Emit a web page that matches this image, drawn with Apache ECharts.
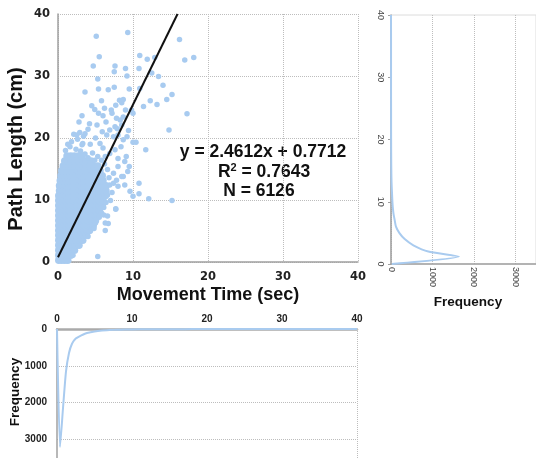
<!DOCTYPE html>
<html>
<head>
<meta charset="utf-8">
<script src="https://cdn.jsdelivr.net/npm/echarts@6/dist/echarts.min.js"></script>
<style>
  html, body { margin: 0; padding: 0; background: #fff; }
  #chart { width: 536px; height: 458px; }
</style>
</head>
<body>
<div id="chart"></div>
<script>
// trend line printed on the chart
var slope = 2.4612;
var intercept = 0.7712;
var rSquared = '0.7643';
var sampleCount = '6126';

// dense cloud near the origin, row by row: [path length, movement times]
var cloudRows = [
  [0.3, [0.1, 0.5, 0.9, 1.3]],
  [1.1, [0.1, 0.5, 0.9, 1.3, 1.7]],
  [1.9, [0.1, 0.5, 0.9, 1.3, 1.7, 2.2]],
  [2.7, [0.1, 0.5, 0.9, 1.3, 1.8, 2.3, 2.8]],
  [3.5, [0.1, 0.5, 0.9, 1.4, 1.9, 2.4, 2.9, 3.3]],
  [4.3, [0.1, 0.5, 1.0, 1.4, 1.9, 2.4, 2.9, 3.4, 3.8]],
  [5.1, [0.1, 0.5, 1.0, 1.5, 2.0, 2.5, 3.0, 3.5, 3.9, 4.2]],
  [5.9, [0.1, 0.5, 1.0, 1.5, 2.0, 2.5, 3.0, 3.5, 4.0, 4.4, 4.7]],
  [6.7, [0.1, 0.5, 1.0, 1.5, 2.0, 2.5, 3.0, 3.5, 4.0, 4.5, 5.0]],
  [7.5, [0.1, 0.5, 1.0, 1.5, 2.0, 2.5, 3.0, 3.5, 4.0, 4.5, 5.0, 5.3]],
  [8.3, [0.1, 0.5, 1.0, 1.5, 2.0, 2.5, 3.0, 3.5, 4.0, 4.5, 5.0, 5.5]],
  [9.1, [0.1, 0.5, 1.0, 1.5, 2.0, 2.5, 3.0, 3.5, 4.0, 4.5, 5.0, 5.5, 5.9]],
  [9.9, [0.1, 0.5, 1.0, 1.5, 2.0, 2.5, 3.0, 3.5, 4.0, 4.5, 5.0, 5.5, 6.0]],
  [10.7, [0.1, 0.5, 1.0, 1.5, 2.0, 2.5, 3.0, 3.5, 4.0, 4.5, 5.0, 5.5, 6.0, 6.3]],
  [11.5, [0.2, 0.6, 1.0, 1.5, 2.0, 2.5, 3.0, 3.5, 4.0, 4.5, 5.0, 5.5, 6.0, 6.4]],
  [12.3, [0.2, 0.6, 1.0, 1.5, 2.0, 2.5, 3.0, 3.5, 4.0, 4.5, 5.0, 5.5, 6.0, 6.4]],
  [13.1, [0.3, 0.7, 1.1, 1.5, 2.0, 2.5, 3.0, 3.5, 4.0, 4.5, 5.0, 5.5, 6.0]],
  [13.9, [0.4, 0.8, 1.2, 1.6, 2.0, 2.5, 3.0, 3.5, 4.0, 4.5, 5.0, 5.5, 5.9]],
  [14.7, [0.5, 0.9, 1.3, 1.7, 2.1, 2.6, 3.1, 3.6, 4.1, 4.6, 5.1, 5.6]],
  [15.5, [0.7, 1.1, 1.5, 1.9, 2.3, 2.8, 3.3, 3.8, 4.3, 4.8, 5.3]],
  [16.3, [0.9, 1.3, 1.8, 2.3, 2.8, 3.3, 3.8, 4.4]],
  [17.1, [1.2, 1.7, 2.2, 2.7, 3.2]]
];

// scattered points around and above the cloud: [movement time, path length]
var scatterPoints = [
  [1.0, 18.0], [1.6, 18.6], [2.4, 18.2], [3.0, 17.9], [3.6, 17.4], [4.0, 16.8], [4.9, 16.4],
  [1.8, 19.4], [2.6, 19.8], [3.2, 18.9], [1.3, 19.0], [2.1, 20.6], [3.4, 20.3], [2.9, 20.9],
  [4.3, 19.0], [4.6, 17.6], [5.3, 17.0], [5.8, 16.4], [6.2, 15.8], [6.6, 14.9], [6.8, 13.6],
  [6.9, 12.4], [7.2, 11.2], [6.6, 10.8], [6.4, 9.6], [6.1, 8.8], [5.8, 7.9], [5.5, 7.2],
  [5.7, 8.7], [6.1, 7.6], [6.7, 6.2], [7.7, 8.5], [6.3, 5.1], [5.3, 0.9], [7.0, 9.9],
  [6.6, 7.4], [2.0, 1.1], [4.0, 4.1], [5.0, 6.3], [4.8, 5.4],
  [3.6, 20.7], [2.5, 20.5], [3.3, 19.1], [4.0, 21.4], [5.0, 20.0], [5.6, 19.1], [6.0, 18.4],
  [5.2, 22.1], [3.2, 23.6], [4.5, 25.2], [5.9, 21.0], [6.4, 22.6], [5.8, 26.0], [6.2, 24.8],
  [4.9, 24.6], [5.4, 24.0], [2.8, 22.6], [4.2, 22.3], [6.0, 23.6], [7.1, 24.5], [7.9, 21.5],
  [9.4, 21.2], [6.7, 27.8], [8.2, 26.1], [8.5, 25.7], [8.7, 26.2], [7.7, 25.3], [7.2, 24.0],
  [7.8, 23.2], [8.3, 22.9], [8.7, 23.4], [9.0, 24.5], [8.5, 22.1], [7.6, 21.8], [6.9, 21.3],
  [6.5, 20.5], [7.4, 20.2], [8.0, 20.5], [8.7, 19.7], [9.2, 20.2], [8.4, 18.6], [7.6, 18.1],
  [6.9, 17.5], [6.3, 17.0], [8.0, 16.7], [9.1, 17.0], [9.5, 15.4], [8.7, 13.8], [7.8, 13.2],
  [7.4, 12.7], [8.9, 12.4], [9.6, 11.4], [10.0, 10.6], [8.0, 12.2], [8.9, 16.2], [8.0, 15.4],
  [7.4, 14.3], [8.5, 13.8], [9.3, 14.6], [7.7, 8.6], [6.3, 6.3],
  [5.1, 36.4], [9.3, 37.0], [16.2, 35.9], [18.1, 33.0], [16.9, 32.6], [12.9, 33.0], [11.9, 32.7],
  [10.9, 33.3], [5.5, 33.1], [4.7, 31.6], [7.6, 31.6], [7.5, 30.7], [9.0, 31.2], [9.2, 30.0],
  [10.8, 31.2], [12.5, 30.5], [13.4, 29.9], [5.3, 29.5], [5.4, 27.9], [7.5, 28.2], [9.5, 27.9],
  [10.9, 28.0], [14.0, 28.5], [15.2, 27.0], [3.6, 27.4], [12.3, 26.0], [13.2, 25.4], [14.5, 26.2],
  [17.2, 23.9], [11.4, 25.1], [10.0, 24.0], [9.8, 24.5], [14.8, 21.3], [10.0, 19.3], [10.4, 19.3],
  [11.7, 18.1], [10.8, 12.7], [10.8, 11.0], [12.1, 10.2], [15.2, 9.9]
];

// path length histogram (right panel): [frequency, path length]
var pathLengthFreq = [
  [20, 0], [1640, 1.2], [900, 2], [540, 3], [330, 4], [200, 5], [120, 6], [90, 7], [62, 8],
  [45, 9], [34, 10], [27, 11], [20, 12], [14, 13], [10, 14], [8, 15], [6, 16], [5, 17], [4, 18],
  [3, 20], [2, 22], [2, 25], [1, 28], [1, 32], [1, 36], [0, 40]
];

// movement time histogram (bottom panel): [movement time, frequency]
var moveTimeFreq = [
  [0, 0], [0.4, 3200], [0.8, 2150], [1.2, 1150], [1.6, 650], [2.0, 400], [2.5, 260], [3.0, 200],
  [3.5, 150], [4, 110], [5, 65], [6, 40], [7, 28], [8, 20], [9, 15], [10, 11], [12, 8], [14, 6],
  [16, 4], [18, 3], [20, 2], [25, 1], [30, 1], [35, 0], [40, 0]
];

var dotColor = '#a8cbf0';
var lineColor = '#a9cbef';

var cloud = [];
cloudRows.forEach(function (row) {
  row[1].forEach(function (x) { cloud.push([x, row[0]]); });
});

var trendLine = [[0, intercept], [(40 - intercept) / slope, 40]];

var thousands = function (v) { return v % 1000 === 0 ? String(v) : ''; };
var boldTick = { fontFamily: 'DejaVu Sans', fontWeight: 'bold', fontSize: 11.5, color: '#222' };
var smallBold = { fontFamily: 'Liberation Sans', fontWeight: 'bold', fontSize: 10, color: '#222' };
var greyAxis = { show: true, lineStyle: { color: '#a0a0a0', width: 1.5 } };
var dotted = { show: true, lineStyle: { type: 'dotted', color: '#bdbdbd', width: 1 } };

var myChart = echarts.init(document.getElementById('chart'));
myChart.setOption({
  animation: false,
  backgroundColor: '#fff',
  grid: [
    { left: 58, top: 14, width: 300, height: 248 },
    { left: 391, top: 15, width: 148, height: 249, show: true, borderColor: '#dcdcdc', borderWidth: 1 },
    { left: 57, top: 329, width: 300, height: 132 }
  ],
  xAxis: [
    {
      gridIndex: 0, type: 'value', min: 0, max: 40, interval: 10,
      axisLine: greyAxis, axisTick: { show: false },
      axisLabel: Object.assign({ margin: 9 }, boldTick),
      splitLine: dotted
    },
    {
      gridIndex: 1, type: 'value', min: 0, max: 3500, interval: 1000,
      axisLine: greyAxis, axisTick: { show: false },
      axisLabel: { rotate: -90, margin: 3, fontFamily: 'Liberation Sans', fontSize: 9, color: '#444', formatter: thousands },
      splitLine: dotted
    },
    {
      gridIndex: 2, type: 'value', position: 'top', min: 0, max: 40, interval: 10,
      axisLine: { show: true, lineStyle: { color: '#aaaaaa', width: 2.5 } }, axisTick: { show: false },
      axisLabel: Object.assign({ margin: 5 }, smallBold),
      splitLine: { show: false }
    }
  ],
  yAxis: [
    {
      gridIndex: 0, type: 'value', min: 0, max: 40, interval: 10,
      axisLine: greyAxis, axisTick: { show: false },
      axisLabel: Object.assign({ margin: 8 }, boldTick),
      splitLine: dotted
    },
    {
      gridIndex: 1, type: 'value', min: 0, max: 40, interval: 10,
      axisLine: greyAxis, axisTick: { show: true, length: 3, lineStyle: { color: '#a0a0a0' } },
      axisLabel: { rotate: -90, margin: 6, fontFamily: 'Liberation Sans', fontSize: 9, color: '#444' },
      splitLine: { show: false }
    },
    {
      gridIndex: 2, type: 'value', inverse: true, min: 0, max: 3500, interval: 1000,
      axisLine: greyAxis, axisTick: { show: false },
      axisLabel: Object.assign({ margin: 10, formatter: thousands }, smallBold),
      splitLine: dotted
    }
  ],
  series: [
    {
      type: 'scatter', xAxisIndex: 0, yAxisIndex: 0, data: cloud,
      symbolSize: 7.5, itemStyle: { color: dotColor, opacity: 1 }, silent: true
    },
    {
      type: 'scatter', xAxisIndex: 0, yAxisIndex: 0, data: scatterPoints,
      symbolSize: 5.5, itemStyle: { color: dotColor, opacity: 1 }, silent: true
    },
    {
      type: 'line', xAxisIndex: 0, yAxisIndex: 0, data: trendLine,
      symbol: 'none', lineStyle: { color: '#111', width: 2 }, silent: true
    },
    {
      type: 'line', xAxisIndex: 1, yAxisIndex: 1, data: pathLengthFreq,
      symbol: 'none', smooth: 0.2, lineStyle: { color: lineColor, width: 2 }, silent: true
    },
    {
      type: 'line', xAxisIndex: 2, yAxisIndex: 2, data: moveTimeFreq,
      symbol: 'none', smooth: 0.2, lineStyle: { color: lineColor, width: 2 }, silent: true,
      markLine: {
        silent: true, symbol: 'none', label: { show: false },
        lineStyle: { type: 'dotted', color: '#bdbdbd', width: 1 },
        data: [{ xAxis: 40 }]
      }
    }
  ],
  graphic: [
    {
      type: 'text', x: 16, y: 149, rotation: Math.PI / 2,
      style: { text: 'Path Length (cm)', align: 'center', verticalAlign: 'middle',
        font: 'bold 20px "Liberation Sans", Arial, sans-serif', fill: '#111' }
    },
    {
      type: 'text', x: 208, y: 295,
      style: { text: 'Movement Time (sec)', align: 'center', verticalAlign: 'middle',
        font: 'bold 18px "Liberation Sans", Arial, sans-serif', fill: '#111' }
    },
    {
      type: 'text', x: 263, y: 152,
      style: { text: 'y = ' + slope + 'x + ' + intercept, align: 'center', verticalAlign: 'middle',
        font: 'bold 17.5px "Liberation Sans", Arial, sans-serif', fill: '#111' }
    },
    {
      type: 'text', x: 264, y: 172,
      style: {
        text: '{a|R}{s|2}{a| = ' + rSquared + '}', align: 'center', verticalAlign: 'middle',
        rich: {
          a: { fontFamily: 'Liberation Sans', fontWeight: 'bold', fontSize: 17.5, lineHeight: 20, fill: '#111', color: '#111' },
          s: { fontFamily: 'Liberation Sans', fontWeight: 'bold', fontSize: 11, lineHeight: 11, verticalAlign: 'top', fill: '#111', color: '#111' }
        }
      }
    },
    {
      type: 'text', x: 259, y: 191,
      style: { text: 'N = ' + sampleCount, align: 'center', verticalAlign: 'middle',
        font: 'bold 17.5px "Liberation Sans", Arial, sans-serif', fill: '#111' }
    },
    {
      type: 'text', x: 468, y: 302,
      style: { text: 'Frequency', align: 'center', verticalAlign: 'middle',
        font: 'bold 13.5px "Liberation Sans", Arial, sans-serif', fill: '#111' }
    },
    {
      type: 'text', x: 15, y: 392, rotation: Math.PI / 2,
      style: { text: 'Frequency', align: 'center', verticalAlign: 'middle',
        font: 'bold 13.5px "Liberation Sans", Arial, sans-serif', fill: '#111' }
    }
  ]
});
window.addEventListener('resize', function () {
  myChart.resize();
});
</script>
</body>
</html>
